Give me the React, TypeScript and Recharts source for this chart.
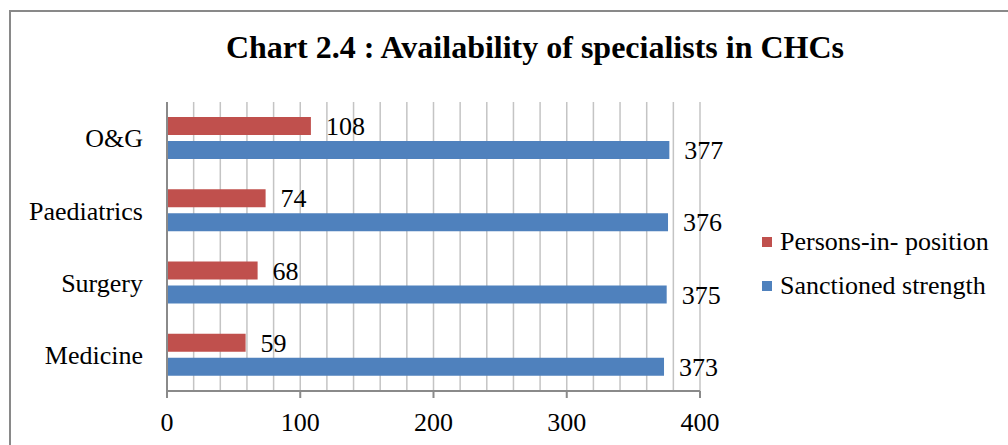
import React from 'react'
import { BarChart, Bar, XAxis, YAxis, CartesianGrid, Legend, LabelList } from 'recharts'

const categories = ['O&G', 'Paediatrics', 'Surgery', 'Medicine']
const personsInPosition = [108, 74, 68, 59]
const sanctionedStrength = [377, 376, 375, 373]
const majorTicks = [0, 100, 200, 300, 400]
const gridTicks = [0, 20, 40, 60, 80, 100, 120, 140, 160, 180, 200, 220, 240, 260, 280, 300, 320, 340, 360, 380, 400]

const RED = '#C0504D'
const BLUE = '#4F81BD'
const FONT = '"Liberation Serif", "Times New Roman", serif'
const TICK_SIZE = 7
const TICK_MARGIN = 15

const data = categories.map((c, i) => ({
    name: c,
    persons: personsInPosition[i],
    sanctioned: sanctionedStrength[i],
}))

const legendItems = [
    { color: RED, label: 'Persons-in- position' },
    { color: BLUE, label: 'Sanctioned strength' },
]

function LegendBox() {
    return (
        <div style={{ fontFamily: FONT, fontSize: '26px', color: '#000' }}>
            {legendItems.map((l, i) => (
                <div key={i} style={{ display: 'flex', alignItems: 'center', height: '44px' }}>
                    <div style={{ width: '10px', height: '10px', background: l.color, marginRight: '8px' }} />
                    <span>{l.label}</span>
                </div>
            ))}
        </div>
    )
}

// only the hundreds get a tick mark and a label, the rest are just grid lines
function MajorTick(props: any) {
    const { x, y, payload } = props
    if (!majorTicks.includes(payload.value)) return null
    const axisY = y - TICK_SIZE - TICK_MARGIN
    return (
        <g>
            <line x1={x} x2={x} y1={axisY} y2={axisY + TICK_SIZE} stroke="#8a8a8a" strokeWidth={2} />
            <text x={x} y={y} dy="0.71em" textAnchor="middle" fontSize={26} fill="#000" fontFamily={FONT}>
                {payload.value}
            </text>
        </g>
    )
}

export default function App() {
    return (
        <div style={{ position: 'absolute', left: 0, top: 0, width: 1008, height: 445, background: '#fff', overflow: 'hidden', fontFamily: FONT }}>
            {/* outer frame */}
            <div style={{ position: 'absolute', left: 9, top: 10, width: 1100, height: 500, borderTop: '2px solid #898989', borderLeft: '2px solid #898989' }} />
            <div style={{ position: 'absolute', left: 0, width: 1070, top: 27, textAlign: 'center', fontSize: '32px', lineHeight: '40px', fontWeight: 'bold', color: '#000' }}>
                Chart 2.4 : Availability of specialists in CHCs
            </div>
            <div style={{ position: 'absolute', left: 0, top: 0 }}>
                <BarChart
                    width={1008}
                    height={445}
                    data={data}
                    layout="vertical"
                    margin={{ top: 102, right: 308, bottom: 10, left: 0 }}
                    barCategoryGap={15}
                    barGap={6}
                >
                    <CartesianGrid horizontal={false} stroke="#c4c4c4" strokeWidth={1.5} />
                    <XAxis
                        type="number"
                        domain={[0, 400]}
                        ticks={gridTicks}
                        interval={0}
                        height={44}
                        axisLine={{ stroke: '#8a8a8a', strokeWidth: 2 }}
                        tickLine={false}
                        tickSize={TICK_SIZE}
                        tickMargin={TICK_MARGIN}
                        tick={<MajorTick />}
                    />
                    <YAxis
                        type="category"
                        dataKey="name"
                        width={167}
                        axisLine={{ stroke: '#8a8a8a', strokeWidth: 2 }}
                        tickLine={false}
                        tickSize={0}
                        tickMargin={24}
                        tick={{ fontSize: 26, fill: '#000', fontFamily: FONT }}
                    />
                    <Legend
                        layout="horizontal"
                        verticalAlign="middle"
                        align="center"
                        content={<LegendBox />}
                        wrapperStyle={{ left: 762, top: 220, width: 246 }}
                    />
                    <Bar dataKey="persons" name="Persons-in- position" fill={RED} isAnimationActive={false}>
                        <LabelList dataKey="persons" position="right" offset={15} fill="#000" fontSize={26} fontFamily={FONT} />
                    </Bar>
                    <Bar dataKey="sanctioned" name="Sanctioned strength" fill={BLUE} isAnimationActive={false}>
                        <LabelList dataKey="sanctioned" position="right" offset={15} fill="#000" fontSize={26} fontFamily={FONT} />
                    </Bar>
                </BarChart>
            </div>
        </div>
    )
}
